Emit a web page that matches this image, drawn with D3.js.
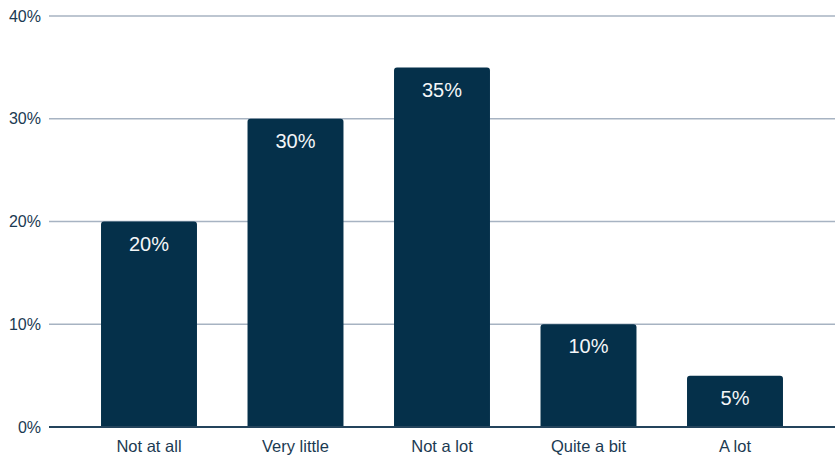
<!DOCTYPE html>
<html><head><meta charset="utf-8">
<script src="https://cdn.jsdelivr.net/npm/d3@7"></script>
<style>body{margin:0;background:#fff}svg{display:block;font-family:"Liberation Sans",Arial,sans-serif}</style>
</head><body><svg id="c" width="835" height="456"></svg>
<script>
const categories = ["Not at all","Very little","Not a lot","Quite a bit","A lot"];
const values = [20,30,35,10,5];
const yTicks = [0,10,20,30,40];

const svg = d3.select("#c");
const x = d3.scaleBand().domain(categories).range([75.75,808.25]).paddingInner(0.345).paddingOuter(0.1725);
const y = d3.scaleLinear().domain([0,40]).range([427,16]);

// grid
svg.append("g").selectAll("line").data(yTicks.filter(d=>d>0)).join("line")
  .attr("x1",49).attr("x2",835).attr("y1",d=>y(d)).attr("y2",d=>y(d))
  .attr("stroke","#a7b3c2").attr("stroke-width",1.6);

// y labels
svg.append("g").selectAll("text").data(yTicks).join("text")
  .attr("x",41).attr("y",d=>y(d)).attr("dy","0.35em").attr("text-anchor","end")
  .attr("font-size",16).attr("fill","#1b3a52").text(d=>d+"%");

// bars with rounded top
const r = 3;
svg.append("g").selectAll("path").data(values).join("path")
  .attr("fill","#05304a")
  .attr("d",(d,i)=>{
    const x0 = x(categories[i]), w = x.bandwidth(), y0 = y(d), y1 = y(0);
    return `M${x0},${y1}V${y0+r}Q${x0},${y0} ${x0+r},${y0}H${x0+w-r}Q${x0+w},${y0} ${x0+w},${y0+r}V${y1}Z`;
  });

// baseline
svg.append("line").attr("x1",49).attr("x2",835).attr("y1",y(0)).attr("y2",y(0))
  .attr("stroke","#24445c").attr("stroke-width",2);

// value labels
svg.append("g").selectAll("text").data(values).join("text")
  .attr("x",(d,i)=>x(categories[i])+x.bandwidth()/2).attr("y",d=>y(d)+22).attr("dy","0.36em")
  .attr("text-anchor","middle").attr("font-size",20).attr("fill","#f4f6f8").text(d=>d+"%");

// x labels
svg.append("g").selectAll("text").data(categories).join("text")
  .attr("x",d=>x(d)+x.bandwidth()/2).attr("y",446).attr("dy","0.35em")
  .attr("text-anchor","middle").attr("font-size",16.5).attr("fill","#1b3a52").text(d=>d);
</script></body></html>
